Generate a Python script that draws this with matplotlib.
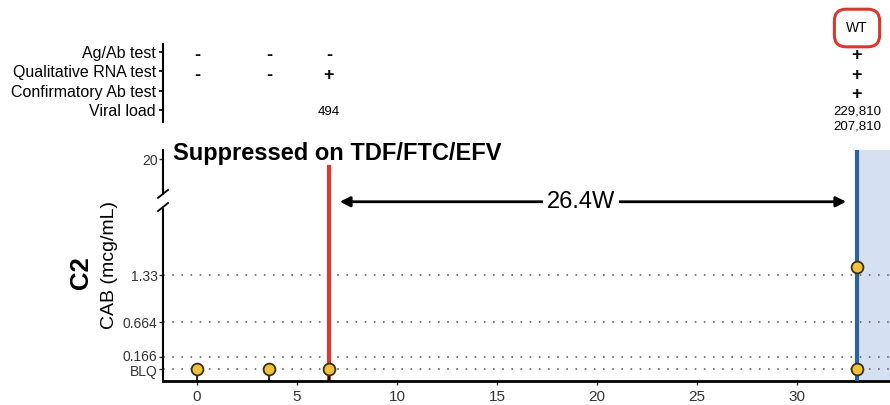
import numpy as np
import matplotlib
matplotlib.use('Agg')
import matplotlib.pyplot as plt
import matplotlib.transforms as mtransforms

plt.rcParams['font.family'] = ['Liberation Sans', 'DejaVu Sans']

# data
test_weeks = [0, 3.6, 6.6, 33.0]
test_rows = ['Ag/Ab test', 'Qualitative RNA test', 'Confirmatory Ab test', 'Viral load']
ag_ab = ['-', '-', '-', '+']
qual_rna = ['-', '-', '+', '+']
confirm_ab = ['', '', '', '+']
viral_load = ['', '', '494', '229,810\n207,810']

sample_weeks = [0, 3.6, 6.6, 33.0, 33.0]
cab_conc = [0, 0, 0, 1.45, 0]   # 0 = BLQ
ytick_vals = [0, 0.166, 0.664, 1.33, 20]
ytick_labels = ['BLQ', '0.166', '0.664', '1.33', '20']
xtick_vals = [0, 5, 10, 15, 20, 25, 30]

last_neg_week = 6.6
diag_week = 33.0

# broken y scale above 1.6
BRK = 1.6
SQ = 1.37 / 18.4


def fwd(v):
    v = np.asarray(v, float)
    return np.where(v <= BRK, v, BRK + (v - BRK) * SQ)


def inv(t):
    t = np.asarray(t, float)
    return np.where(t <= BRK, t, BRK + (t - BRK) / SQ)


fig = plt.figure(figsize=(8.9, 4.05), dpi=100)
ax = fig.add_axes([163 / 890, 24 / 405, 727 / 890, 231 / 405])
top = fig.add_axes([163 / 890, 1 - 122 / 405, 727 / 890, 78 / 405], sharex=ax)

ax.set_yscale('function', functions=(fwd, inv))
ax.set_xlim(-1.7, 34.65)
ax.set_ylim(-0.17, float(inv(3.10)))

for v in ytick_vals[:-1]:
    ax.axhline(v, color='#666666', lw=1.2, ls=(0, (1, 4.5)), zorder=1)

ax.axvspan(diag_week, 34.65, color='#d5e0f2', zorder=0, lw=0)
ax.axvline(last_neg_week, ymin=0, ymax=0.928, color='#d93a30', lw=3, zorder=2)

ax.vlines(sample_weeks, -0.17, cab_conc, color='black', lw=1.2, zorder=2.5)
ax.axvline(diag_week, ymin=0, ymax=1, color='#2b6499', lw=3, zorder=3)
ax.plot(sample_weeks, cab_conc, 'o', ms=8.5, mfc='#f1c13a', mec='#3a3018',
        mew=1.3, zorder=4, clip_on=False)

ax.set_yticks(ytick_vals)
ax.set_yticklabels(ytick_labels)
ax.set_xticks(xtick_vals)
ax.tick_params(axis='both', labelsize=11, colors='#333333', length=3, width=1)
ax.tick_params(axis='y', pad=1, labelsize=10)
# nudge the two crowded bottom labels apart a little
ylabs = ax.get_yticklabels()
ylabs[0].set_transform(ylabs[0].get_transform() +
                       mtransforms.ScaledTranslation(0, -2 / 100, fig.dpi_scale_trans))
ylabs[1].set_transform(ylabs[1].get_transform() +
                       mtransforms.ScaledTranslation(0, 2 / 100, fig.dpi_scale_trans))
for s in ['top', 'right']:
    ax.spines[s].set_visible(False)
ax.spines['left'].set_linewidth(1.5)
ax.spines['bottom'].set_linewidth(2)

# axis break marks
dx, dy = 5 / 727, 4 / 231
ax.add_patch(plt.Rectangle((-0.004, 0.755), 0.008, 0.05, transform=ax.transAxes,
                           color='white', clip_on=False, zorder=5))
for yb in [0.81, 0.753]:
    ax.plot([-dx, dx], [yb - dy, yb + dy], color='black', lw=1.3,
            transform=ax.transAxes, clip_on=False, zorder=6)

# interval arrow
trans = mtransforms.blended_transform_factory(ax.transData, ax.transAxes)
ax.annotate('', xy=(32.6, 0.776), xytext=(7.0, 0.776), xycoords=trans,
            arrowprops=dict(arrowstyle='<|-|>', color='black', lw=2, mutation_scale=15))
ax.text((last_neg_week + diag_week) / 2 - 0.6, 0.776,
        '%.1fW' % (diag_week - last_neg_week), transform=trans,
        ha='center', va='center', fontsize=17,
        bbox=dict(facecolor='white', edgecolor='none', pad=3))

ax.text(0.014, 0.987, 'Suppressed on TDF/FTC/EFV', transform=ax.transAxes,
        fontsize=17, fontweight='bold', ha='left', va='center')

fig.text(81 / 890, 1 - 273 / 405, 'C2', rotation=90, fontsize=18.5,
         fontweight='bold', ha='center', va='center')
fig.text(110 / 890, 1 - 265 / 405, 'CAB (mcg/mL)', rotation=90, fontsize=14,
         ha='center', va='center')

# test table
top.set_ylim(3.6, -0.4)
top.set_yticks(range(len(test_rows)))
top.set_yticklabels(test_rows)
top.tick_params(axis='y', labelsize=11.5, length=3, width=1.2, pad=2)
top.tick_params(axis='x', bottom=False, labelbottom=False)
for s in ['top', 'right', 'bottom']:
    top.spines[s].set_visible(False)
top.spines['left'].set_linewidth(1.5)
top.patch.set_visible(False)

for row, vals in enumerate([ag_ab, qual_rna, confirm_ab]):
    for w, s in zip(test_weeks, vals):
        if s:
            top.text(w, row + 0.2, s, ha='center', va='center', fontsize=13,
                     fontweight='bold')
for w, s in zip(test_weeks, viral_load):
    if s:
        top.text(w, 2.76, s, ha='center', va='top', fontsize=9.5,
                 linespacing=1.35)

top.text(diag_week, -1.22, 'WT', ha='center', va='center', fontsize=10,
         clip_on=False,
         bbox=dict(boxstyle='round,pad=0.85', facecolor='white',
                   edgecolor='#d63a2f', lw=2.2))

fig.savefig('out.png', dpi=100)
